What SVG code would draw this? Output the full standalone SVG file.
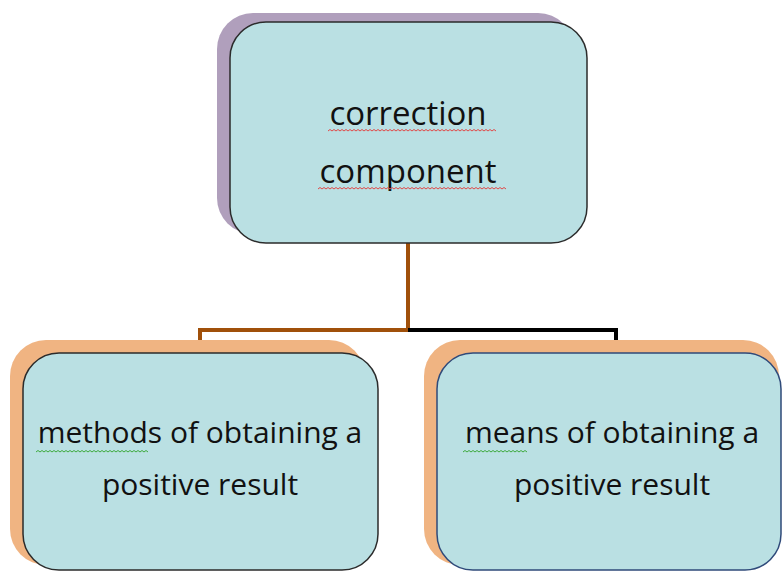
<svg xmlns="http://www.w3.org/2000/svg" width="783" height="572" viewBox="0 0 783 572">
<style>
.box{fill:#BAE0E3;stroke:#2b2b2b;stroke-width:1.5}
.txt{font-family:"Open Sans","Noto Sans",sans-serif;font-size:30px;fill:#111;text-anchor:middle}
.big{font-size:33px}
.sq{fill:none;stroke-width:1}
.red{stroke:#E04848}
.grn{stroke:#3DAA3D}
</style>
<rect width="783" height="572" fill="#fff"/>
<g id="connectors" fill="none" stroke-width="4">
<path d="M408 243 V330 H200 V353" stroke="#A0500A"/>
<path d="M408 330 H616 V353" stroke="#000"/>
</g>
<g id="node-top">
<rect x="217" y="13" width="357" height="221" rx="36" fill="#B09FBC"/>
<rect class="box" x="230" y="22" width="357" height="221" rx="36"/>
<text class="txt big" x="408" y="125">correction</text>
<text class="txt big" x="408" y="183">component</text>
<path class="sq red" d="M328 131 l2-1.5 2 1.5 2-1.5 2 1.5 2-1.5 2 1.5 2-1.5 2 1.5 2-1.5 2 1.5 2-1.5 2 1.5 2-1.5 2 1.5 2-1.5 2 1.5 2-1.5 2 1.5 2-1.5 2 1.5 2-1.5 2 1.5 2-1.5 2 1.5 2-1.5 2 1.5 2-1.5 2 1.5 2-1.5 2 1.5 2-1.5 2 1.5 2-1.5 2 1.5 2-1.5 2 1.5 2-1.5 2 1.5 2-1.5 2 1.5 2-1.5 2 1.5 2-1.5 2 1.5 2-1.5 2 1.5 2-1.5 2 1.5 2-1.5 2 1.5 2-1.5 2 1.5 2-1.5 2 1.5 2-1.5 2 1.5 2-1.5 2 1.5 2-1.5 2 1.5 2-1.5 2 1.5 2-1.5 2 1.5 2-1.5 2 1.5 2-1.5 2 1.5 2-1.5 2 1.5 2-1.5 2 1.5 2-1.5 2 1.5 2-1.5 2 1.5 2-1.5 2 1.5 2-1.5 2 1.5 2-1.5 2 1.5 2-1.5 2 1.5"/>
<path class="sq red" d="M318 189 l2-1.5 2 1.5 2-1.5 2 1.5 2-1.5 2 1.5 2-1.5 2 1.5 2-1.5 2 1.5 2-1.5 2 1.5 2-1.5 2 1.5 2-1.5 2 1.5 2-1.5 2 1.5 2-1.5 2 1.5 2-1.5 2 1.5 2-1.5 2 1.5 2-1.5 2 1.5 2-1.5 2 1.5 2-1.5 2 1.5 2-1.5 2 1.5 2-1.5 2 1.5 2-1.5 2 1.5 2-1.5 2 1.5 2-1.5 2 1.5 2-1.5 2 1.5 2-1.5 2 1.5 2-1.5 2 1.5 2-1.5 2 1.5 2-1.5 2 1.5 2-1.5 2 1.5 2-1.5 2 1.5 2-1.5 2 1.5 2-1.5 2 1.5 2-1.5 2 1.5 2-1.5 2 1.5 2-1.5 2 1.5 2-1.5 2 1.5 2-1.5 2 1.5 2-1.5 2 1.5 2-1.5 2 1.5 2-1.5 2 1.5 2-1.5 2 1.5 2-1.5 2 1.5 2-1.5 2 1.5 2-1.5 2 1.5 2-1.5 2 1.5 2-1.5 2 1.5 2-1.5 2 1.5 2-1.5 2 1.5 2-1.5 2 1.5 2-1.5 2 1.5"/>
</g>
<g id="node-left">
<rect x="10" y="340" width="355" height="225" rx="36" fill="#F0B482"/>
<rect class="box" x="23" y="353" width="355" height="217" rx="36"/>
<text class="txt" x="200" y="443">methods of obtaining a</text>
<text class="txt" x="200" y="495">positive result</text>
<path class="sq grn" d="M36 452 l2-1.5 2 1.5 2-1.5 2 1.5 2-1.5 2 1.5 2-1.5 2 1.5 2-1.5 2 1.5 2-1.5 2 1.5 2-1.5 2 1.5 2-1.5 2 1.5 2-1.5 2 1.5 2-1.5 2 1.5 2-1.5 2 1.5 2-1.5 2 1.5 2-1.5 2 1.5 2-1.5 2 1.5 2-1.5 2 1.5 2-1.5 2 1.5 2-1.5 2 1.5 2-1.5 2 1.5 2-1.5 2 1.5 2-1.5 2 1.5 2-1.5 2 1.5 2-1.5 2 1.5 2-1.5 2 1.5 2-1.5 2 1.5 2-1.5 2 1.5 2-1.5 2 1.5 2-1.5 2 1.5 2-1.5 2 1.5"/>
</g>
<g id="node-right">
<rect x="424" y="340" width="355" height="225" rx="36" fill="#F0B482"/>
<rect class="box" x="437" y="353" width="344" height="217" rx="36" style="stroke:#2F4A7A"/>
<text class="txt" x="612" y="443">means of obtaining a</text>
<text class="txt" x="612" y="495">positive result</text>
<path class="sq grn" d="M463 452 l2-1.5 2 1.5 2-1.5 2 1.5 2-1.5 2 1.5 2-1.5 2 1.5 2-1.5 2 1.5 2-1.5 2 1.5 2-1.5 2 1.5 2-1.5 2 1.5 2-1.5 2 1.5 2-1.5 2 1.5 2-1.5 2 1.5 2-1.5 2 1.5 2-1.5 2 1.5 2-1.5 2 1.5 2-1.5 2 1.5 2-1.5 2 1.5"/>
</g>
</svg>
